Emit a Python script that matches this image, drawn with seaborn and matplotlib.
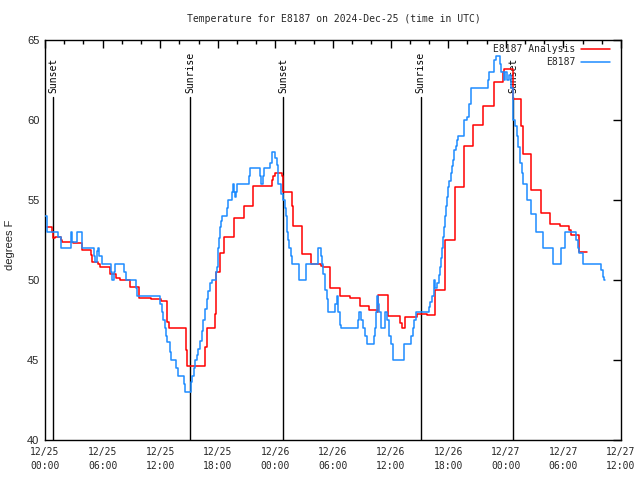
import matplotlib
matplotlib.use("Agg")
import matplotlib.pyplot as plt
import seaborn as sns
import pandas as pd

# ---------------- data (hours since 2024-12-25 00:00 UTC) ----------------
analysis_hours = [0.17, 0.76, 0.87, 1.04, 1.63, 1.74, 2.88, 3.82, 4.79, 4.93, 5.56, 5.73,
                  6.77, 7.4, 7.81, 8.85, 9.75, 11.0, 12.05, 12.74, 12.95, 14.69, 14.83,
                  16.67, 16.84, 17.7, 17.81, 18.23, 18.68, 19.72, 20.76, 21.7, 23.6, 23.8,
                  23.96, 24.65, 24.83, 25.7, 25.87, 26.74, 27.67, 28.72, 28.99, 29.69,
                  30.73, 31.77, 32.81, 33.75, 34.55, 34.72, 35.76, 36.98, 37.15, 37.5,
                  38.7, 39.8, 40.63, 41.67, 42.7, 43.65, 44.6, 45.66, 46.77, 47.67, 47.8,
                  48.7, 49.6, 49.75, 50.65, 51.65, 52.6, 53.65, 54.6, 54.75, 55.6, 56.5]
analysis_temp = [53.3, 53.0, 52.6, 52.7, 52.5, 52.4, 52.3, 51.9, 51.56, 51.1, 51.0, 50.8,
                 50.4, 50.1, 50.0, 49.56, 48.9, 48.8, 48.7, 47.4, 47.0, 45.6, 44.6,
                 45.8, 47.0, 47.9, 50.5, 51.7, 52.7, 53.9, 54.6, 55.9, 56.25, 56.5,
                 56.7, 56.5, 55.5, 54.6, 53.4, 51.6, 51.0, 50.9, 50.8, 49.5,
                 49.0, 48.9, 48.4, 48.1, 48.0, 49.06, 47.75, 47.3, 47.0, 47.7,
                 47.9, 47.8, 49.4, 52.5, 55.8, 58.4, 59.7, 60.9, 62.4, 63.0, 63.2,
                 61.3, 59.6, 57.9, 55.6, 54.2, 53.5, 53.4, 53.1, 52.8, 51.75, 51.75]

obs_hours = [0.0, 0.24, 1.39, 1.63, 2.72, 2.85, 3.3, 3.89, 5.14, 5.25, 5.4, 5.5, 5.65, 5.9,
             6.88, 6.98, 7.15, 7.3, 8.2, 8.4, 9.45, 9.55, 12.0, 12.15, 12.3, 12.45, 12.58,
             12.67, 12.98, 13.08, 13.6, 13.9, 14.46, 14.58, 15.21, 15.35, 15.5, 15.63, 15.8,
             15.97, 16.1, 16.32, 16.5, 16.67, 16.84, 17.01, 17.19, 17.36, 17.77, 17.88,
             17.99, 18.06, 18.16, 18.23, 18.33, 18.4, 19.0, 19.1, 19.44, 19.55, 19.69, 19.8,
             19.9, 20.0, 21.28, 21.35, 22.4, 22.52, 22.67, 22.81, 23.45, 23.61, 24.0, 24.13,
             24.24, 24.31, 24.6, 24.83, 25.0, 25.1, 25.24, 25.35, 25.45, 25.59, 25.7, 26.45,
             27.2, 28.4, 28.72, 28.82, 28.99, 29.17, 29.34, 29.51, 30.2, 30.38, 30.5, 30.7,
             30.83, 32.6, 32.75, 32.95, 33.09, 33.3, 33.5, 34.25, 34.37, 34.48, 34.62, 34.72,
             34.83, 35.0, 35.45, 35.62, 35.8, 36.0, 36.25, 37.35, 38.1, 38.3, 38.45, 38.6,
             40.03, 40.15, 40.28, 40.52, 40.66, 40.87, 41.0, 41.15, 41.28, 41.39, 41.5, 41.56,
             41.67, 41.77, 41.91, 42.01, 42.12, 42.26, 42.36, 42.47, 42.64, 42.78, 42.88,
             43.06, 43.6, 44.0, 44.2, 44.4, 46.15, 46.28, 46.8, 46.95, 47.35, 47.55, 47.8,
             47.95, 48.1, 48.3, 48.55, 48.7, 48.96, 49.13, 49.31, 49.48, 49.65, 49.83, 50.17,
             50.6, 51.15, 51.9, 52.95, 53.75, 54.2, 55.3, 55.5, 55.65, 56.0, 57.9, 58.1,
             58.25, 58.33]
obs_temp = [54.0, 53.0, 52.7, 52.0, 53.0, 52.4, 53.0, 52.0, 51.5, 51.1, 51.8, 52.0, 51.5, 51.0,
            50.5, 50.0, 50.5, 51.0, 50.5, 50.0, 49.5, 49.0, 48.5, 48.0, 47.5, 47.0, 46.5,
            46.1, 45.5, 45.0, 44.5, 44.0, 43.5, 43.0, 43.6, 44.0, 44.5, 45.0, 45.3,
            45.7, 46.2, 46.8, 47.5, 48.2, 48.8, 49.3, 49.8, 50.0, 50.5, 50.8,
            51.4, 52.0, 52.6, 53.3, 53.7, 54.0, 54.5, 55.0, 55.5, 56.0, 55.5, 55.2,
            55.5, 56.0, 56.5, 57.0, 56.5, 56.0, 56.5, 57.0, 57.3, 58.0, 57.6, 57.2,
            56.5, 56.0, 55.4, 55.0, 54.5, 54.0, 53.0, 52.5, 52.0, 51.5, 51.0, 50.0,
            51.0, 52.0, 51.5, 51.0, 50.4, 49.4, 48.8, 48.0, 48.5, 49.0, 48.0, 47.2,
            47.0, 47.5, 48.0, 47.5, 47.0, 46.5, 46.0, 46.5, 47.0, 48.0, 49.0, 48.5,
            48.0, 47.0, 48.0, 47.5, 46.5, 46.0, 45.0, 46.0, 46.5, 47.0, 47.5, 48.0,
            48.3, 48.6, 49.0, 50.0, 49.5, 49.8, 50.3, 50.8, 51.4, 52.0, 52.7, 53.3,
            54.0, 54.6, 55.2, 55.8, 56.2, 56.7, 57.1, 57.5, 58.1, 58.4, 58.75,
            59.0, 60.0, 60.2, 61.0, 62.0, 62.5, 63.0, 63.75, 64.0, 63.5, 63.0, 62.5,
            63.0, 62.5, 62.8, 62.0, 60.0, 59.6, 59.0, 58.3, 57.3, 56.7, 56.0, 55.0,
            54.1, 53.0, 52.0, 51.0, 52.0, 53.0, 52.5, 52.0, 51.7, 51.0, 50.6, 50.2,
            50.0, 50.0]

event_names = ["Sunset", "Sunrise", "Sunset", "Sunrise", "Sunset"]
event_hours = [0.83, 15.13, 24.82, 39.12, 48.8]

tick_hours = [0, 6, 12, 18, 24, 30, 36, 42, 48, 54, 60]
tick_labels = ["12/25\n00:00", "12/25\n06:00", "12/25\n12:00", "12/25\n18:00",
               "12/26\n00:00", "12/26\n06:00", "12/26\n12:00", "12/26\n18:00",
               "12/27\n00:00", "12/27\n06:00", "12/27\n12:00"]
y_ticks = [40, 45, 50, 55, 60, 65]

title = "Temperature for E8187 on 2024-Dec-25 (time in UTC)"
series_names = ["E8187 Analysis", "E8187"]

# ---------------- style ----------------
sns.set_style("white")
plt.rcParams['font.family'] = ['DejaVu Sans Mono']
MONO = 'DejaVu Sans Mono'
SANS = 'Liberation Sans'
RED = '#ff0000'
BLUE = '#1e8cff'

fig = plt.figure(figsize=(6.4, 4.8), dpi=100)
ax = fig.add_axes([45 / 640, 40 / 480, 576 / 640, 400 / 480])

for name, h in zip(event_names, event_hours):
    ax.axvline(h, ymin=0, ymax=0.857, color='black', lw=1.0, zorder=1)
    ax.text(h, 0.868, name, transform=ax.get_xaxis_transform(), rotation=90,
            ha='center', va='bottom', fontsize=7, family=MONO, color='black')

df_a = pd.DataFrame({"hours": analysis_hours, "temp": analysis_temp})
df_o = pd.DataFrame({"hours": obs_hours, "temp": obs_temp})
sns.lineplot(data=df_a, x="hours", y="temp", ax=ax, color=RED, lw=1.1,
             drawstyle="steps-post", estimator=None, sort=False,
             label=series_names[0], zorder=3)
sns.lineplot(data=df_o, x="hours", y="temp", ax=ax, color=BLUE, lw=1.1,
             drawstyle="steps-post", estimator=None, sort=False,
             label=series_names[1], zorder=4)

ax.set_xlim(0, 60)
ax.set_ylim(40, 65)
ax.set_xticks(tick_hours)
ax.set_xticklabels(tick_labels, family=MONO, fontsize=7, linespacing=1.45)
ax.set_xticks(range(0, 61, 2), minor=True)
ax.set_yticks(y_ticks)
ax.set_yticklabels([str(v) for v in y_ticks], family=SANS, fontsize=8)
ax.tick_params(which='major', direction='in', top=True, right=True, length=6,
               width=1, color='black', pad=5)
ax.tick_params(which='minor', direction='in', top=True, right=True, length=3,
               width=1, color='black')
ax.tick_params(axis='y', pad=4)
ax.set_xlabel("")
ax.set_ylabel("")
for s in ax.spines.values():
    s.set_color('black')
    s.set_linewidth(1.0)

leg = ax.legend(loc='upper right', bbox_to_anchor=(0.981, 0.99), frameon=False,
                markerfirst=False, handlelength=3.0, handletextpad=0.6,
                borderaxespad=0, borderpad=0, labelspacing=0.3,
                prop={'family': MONO, 'size': 7})

fig.text(334 / 640, 1 - 19 / 480, title, ha='center', va='center', fontsize=7,
         family=MONO)
fig.text(10 / 640, 1 - 245 / 480, "degrees F", rotation=90, ha='center',
         va='center', fontsize=8, family=SANS)

fig.savefig("out.png", dpi=100)
